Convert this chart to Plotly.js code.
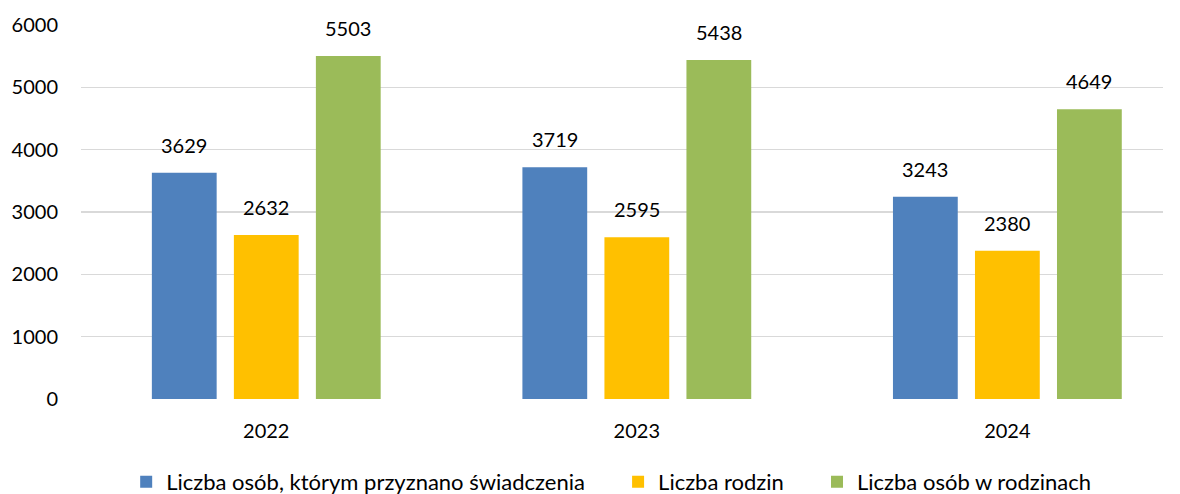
<!DOCTYPE html>
<html><head><meta charset="utf-8">
<script src="https://cdn.plot.ly/plotly-3.0.1.min.js"></script>
<style>html,body{margin:0;padding:0;background:#fff}#chart{width:1180px;height:494px}</style>
</head><body><div id="chart"></div>
<script>
const categories = ['2022', '2023', '2024'];
const seriesNames = ['Liczba osób, którym przyznano świadczenia', 'Liczba rodzin', 'Liczba osób w rodzinach'];
const osoby = [3629, 3719, 3243];
const rodziny = [2632, 2595, 2380];
const osobyWRodzinach = [5503, 5438, 4649];
const yTicks = [0, 1000, 2000, 3000, 4000, 5000, 6000];
const colors = ['#4F81BD', '#FFC000', '#9BBB59'];
const allSeries = [osoby, rodziny, osobyWRodzinach];
const font = 'Lato, "Open Sans", sans-serif';
const xIdx = categories.map((c, i) => i);

const traces = allSeries.map((vals, i) => ({
  type: 'bar', x: xIdx, y: vals, name: seriesNames[i] + (i < 2 ? '\u00a0\u00a0\u00a0\u00a0\u00a0' : ''),
  marker: {color: colors[i]}, hoverinfo: 'none'
}));

const shifts = [-82, 0, 82];
const annotations = [];
allSeries.forEach((vals, i) => vals.forEach((v, j) => annotations.push({
  x: xIdx[j], y: v, xref: 'x', yref: 'y', text: String(v), showarrow: false,
  xshift: shifts[i], yshift: 14, yanchor: 'bottom', font: {size: 20, color: '#000', family: font}
})));

Plotly.newPlot('chart', traces, {
  width: 1180, height: 494,
  margin: {l: 81, r: 17, t: 25, b: 95, autoexpand: false},
  barmode: 'group', bargap: 0.336, bargroupgap: 0.21,
  font: {family: font, size: 20, color: '#000'},
  xaxis: {range: [-0.5, 2.42], tickvals: xIdx, ticktext: categories, showgrid: false, zeroline: false, showline: false,
          ticks: '', ticklabelstandoff: 18, tickfont: {size: 20}, fixedrange: true, automargin: false},
  yaxis: {range: [0, 6000], tickvals: yTicks, gridcolor: '#D9D9D9', gridwidth: 1.3,
          zeroline: false, showline: false, ticks: '', ticklabelstandoff: 22, tickfont: {size: 20}, fixedrange: true, automargin: false},
  legend: {orientation: 'h', x: 0.49, xanchor: 'center', y: -0.222, yanchor: 'middle', font: {size: 22}, itemwidth: 30, traceorder: 'normal'},
  annotations: annotations,
  plot_bgcolor: '#fff', paper_bgcolor: '#fff', showlegend: true
}, {displayModeBar: false, staticPlot: true});
</script></body></html>
